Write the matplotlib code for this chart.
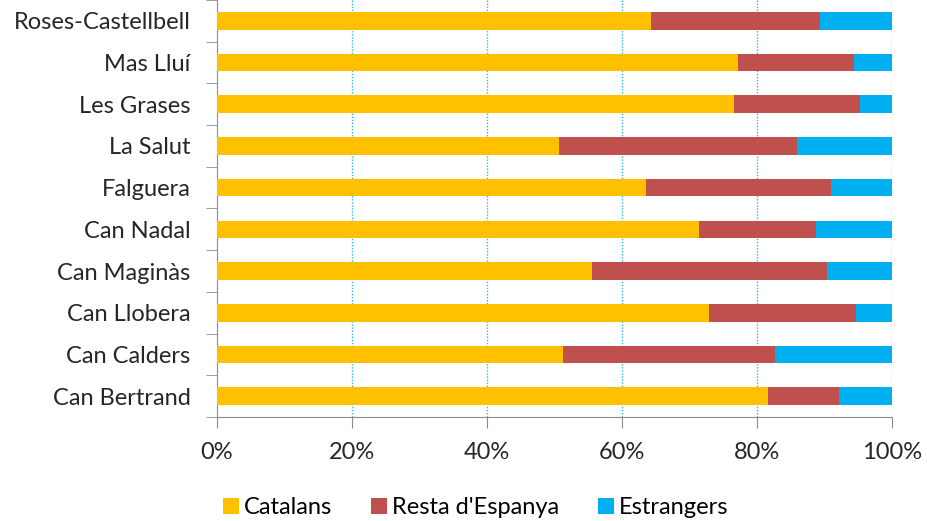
import numpy as np
import matplotlib.pyplot as plt
from matplotlib.patches import Patch

# categories, top to bottom as in the chart
barris = ['Roses-Castellbell', 'Mas Lluí', 'Les Grases', 'La Salut', 'Falguera',
          'Can Nadal', 'Can Maginàs', 'Can Llobera', 'Can Calders', 'Can Bertrand']
catalans = [64.3, 77.2, 76.6, 50.6, 63.5, 71.4, 55.6, 72.9, 51.2, 81.6]
resta_espanya = [25.0, 17.1, 18.6, 35.3, 27.4, 17.3, 34.7, 21.7, 31.5, 10.5]
estrangers = [10.7, 5.7, 4.8, 14.1, 9.1, 11.3, 9.7, 5.4, 17.3, 7.9]
series_names = ['Catalans', "Resta d'Espanya", 'Estrangers']
colors = ['#FFC000', '#C0504D', '#00B0F0']

plt.rcParams['font.family'] = ['Lato', 'DejaVu Sans']
plt.rcParams['font.size'] = 17

fig = plt.figure(figsize=(9.27, 5.21), dpi=100)
ax = fig.add_axes([217/927, 1 - 417/521, 675/927, 417/521])

y = np.arange(len(barris))
left = np.zeros(len(barris))
for vals, col in zip([catalans, resta_espanya, estrangers], colors):
    vals = np.array(vals)
    ax.barh(y, vals, left=left, height=0.42, color=col, zorder=3)
    left += vals

ax.set_xlim(0, 100)
ax.set_ylim(len(barris) - 0.5, -0.5)

# dotted grid (no line at 0)
for g in [20, 40, 60, 80, 100]:
    ax.axvline(g, color='#29B6F6', linestyle=(0, (1, 1.2)), linewidth=1, zorder=1)

ax.set_xticks([0, 20, 40, 60, 80, 100])
ax.set_xticklabels(['0%', '20%', '40%', '60%', '80%', '100%'])
ax.set_yticks(y)
ax.set_yticklabels(barris)
ax.set_yticks(np.arange(len(barris) + 1) - 0.5, minor=True)
ax.tick_params(axis='y', which='major', length=0, pad=19)
ax.tick_params(axis='y', which='minor', length=8, color='#8C8C8C', direction='out')
ax.tick_params(axis='x', length=8, color='#8C8C8C', direction='out', pad=10)
for lbl in ax.get_xticklabels() + ax.get_yticklabels():
    lbl.set_color('#262626')

for s in ['top', 'right']:
    ax.spines[s].set_visible(False)
for s in ['left', 'bottom']:
    ax.spines[s].set_color('#8C8C8C')

handles = [Patch(facecolor=c, label=n) for c, n in zip(colors, series_names)]
fig.legend(handles=handles, loc='center', bbox_to_anchor=(476/927, 13/521), ncol=3,
           frameon=False, handlelength=0.68, handleheight=0.65,
           handletextpad=0.2, columnspacing=1.65, borderpad=0)

fig.savefig('out.png', dpi=100)
